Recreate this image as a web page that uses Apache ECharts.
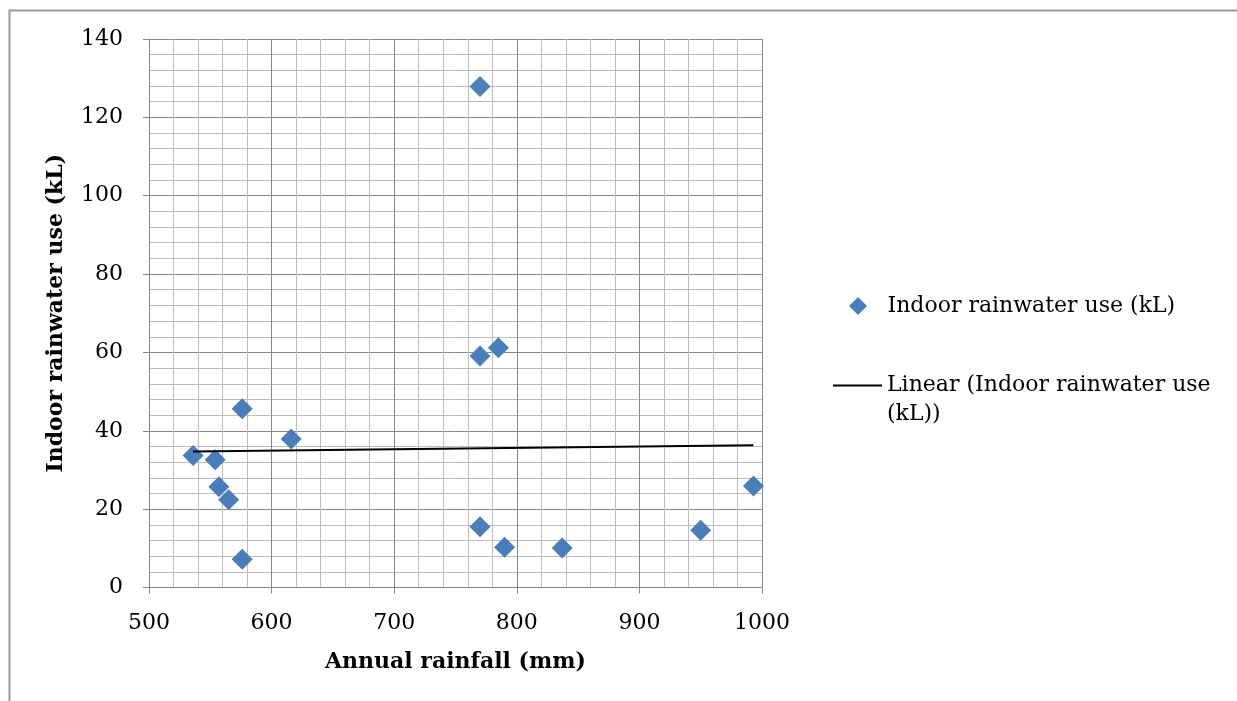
<!DOCTYPE html>
<html>
<head>
<meta charset="utf-8">
<script src="https://cdn.jsdelivr.net/npm/echarts@6/dist/echarts.min.js"></script>
<style>
html,body{margin:0;padding:0;background:#fff;}
#chart{width:1237px;height:701px;}
</style>
</head>
<body>
<div id="chart"></div>
<script>
// Data
const rainfall = [536, 554, 557, 565, 576, 576, 616, 770, 770, 770, 785, 790, 837, 950, 993];
const indoorUse = [33.7, 32.6, 25.7, 22.4, 7.2, 45.6, 37.9, 127.9, 59.1, 15.5, 61.2, 10.3, 10.1, 14.6, 25.9];
const seriesName = 'Indoor rainwater use (kL)';
const trendName = 'Linear (Indoor rainwater use (kL))';
const xTicks = [500, 600, 700, 800, 900, 1000];
const yTicks = [0, 20, 40, 60, 80, 100, 120, 140];

// Linear trendline (least squares), spanning the data's x range
const n = rainfall.length;
const mx = rainfall.reduce((a, b) => a + b, 0) / n;
const my = indoorUse.reduce((a, b) => a + b, 0) / n;
let sxy = 0, sxx = 0;
for (let i = 0; i < n; i++) { sxy += (rainfall[i] - mx) * (indoorUse[i] - my); sxx += (rainfall[i] - mx) ** 2; }
const slope = sxy / sxx, intercept = my - slope * mx;
const xMin = Math.min(...rainfall), xMax = Math.max(...rainfall);
const trend = [[xMin, intercept + slope * xMin], [xMax, intercept + slope * xMax]];

const points = rainfall.map((x, i) => [x, indoorUse[i]]);
const FONT = 'DejaVu Serif';

const chart = echarts.init(document.getElementById('chart'), null, {renderer: 'canvas'});
chart.setOption({
  animation: false,
  backgroundColor: '#fff',
  textStyle: {fontFamily: FONT},
  graphic: [{
    type: 'rect', left: 7, top: 8, silent: true,
    shape: {x: 0, y: 0, width: 1400, height: 900},
    style: {fill: 'none', stroke: '#9a9a9a', lineWidth: 2}
  }],
  grid: {left: 149, right: 475, top: 39, bottom: 113.5, containLabel: false},
  xAxis: {
    type: 'value', min: xTicks[0], max: xTicks[xTicks.length - 1], interval: 100,
    name: 'Annual rainfall (mm)', nameLocation: 'middle', nameGap: 64,
    nameTextStyle: {fontFamily: FONT, fontWeight: 'bold', fontSize: 22, color: '#000'},
    axisLine: {show: true, onZero: false, lineStyle: {color: '#868686', width: 1}},
    axisTick: {show: true, length: 6, inside: false, lineStyle: {color: '#868686'}},
    axisLabel: {fontFamily: FONT, fontSize: 22, color: '#000', margin: 25, formatter: v => String(v)},
    splitLine: {show: true, lineStyle: {color: '#8a8a8a', width: 1}},
    minorTick: {show: false, splitNumber: 5},
    minorSplitLine: {show: true, lineStyle: {color: '#bdbdbd', width: 1}}
  },
  yAxis: {
    type: 'value', min: yTicks[0], max: yTicks[yTicks.length - 1], interval: 20,
    name: 'Indoor rainwater use (kL)', nameLocation: 'middle', nameGap: 82, nameRotate: 90,
    nameTextStyle: {fontFamily: FONT, fontWeight: 'bold', fontSize: 22, color: '#000'},
    axisLine: {show: true, onZero: false, lineStyle: {color: '#868686', width: 1}},
    axisTick: {show: true, length: 6, inside: false, lineStyle: {color: '#868686'}},
    axisLabel: {fontFamily: FONT, fontSize: 22, color: '#000', margin: 26, formatter: v => String(v)},
    splitLine: {show: true, lineStyle: {color: '#8a8a8a', width: 1}},
    minorTick: {show: false, splitNumber: 5},
    minorSplitLine: {show: true, lineStyle: {color: '#bdbdbd', width: 1}}
  },
  legend: [{
    data: [{name: seriesName, icon: 'path://M0,-1L1,0L0,1L-1,0Z'}],
    left: 844, top: 290, orient: 'vertical',
    itemWidth: 49, itemHeight: 18, itemGap: 0,
    textStyle: {fontFamily: FONT, fontSize: 22, color: '#000'},
    selectedMode: false
  }, {
    data: [{name: trendName, icon: 'path://M0,0H49V2H0Z'}],
    left: 828, top: 337, orient: 'vertical',
    itemWidth: 49, itemHeight: 18,
    formatter: () => '\nLinear (Indoor rainwater use\n(kL))',
    textStyle: {fontFamily: FONT, fontSize: 22, color: '#000', lineHeight: 29},
    selectedMode: false
  }],
  series: [{
    name: seriesName, type: 'scatter', data: points,
    symbol: 'diamond', symbolSize: 21,
    itemStyle: {color: '#4a7ebb', opacity: 1}, z: 2
  }, {
    name: trendName, type: 'line', data: trend,
    symbol: 'none', showSymbol: false,
    lineStyle: {color: '#000', width: 2},
    itemStyle: {color: '#000'}, z: 3
  }]
});
</script>
</body>
</html>
